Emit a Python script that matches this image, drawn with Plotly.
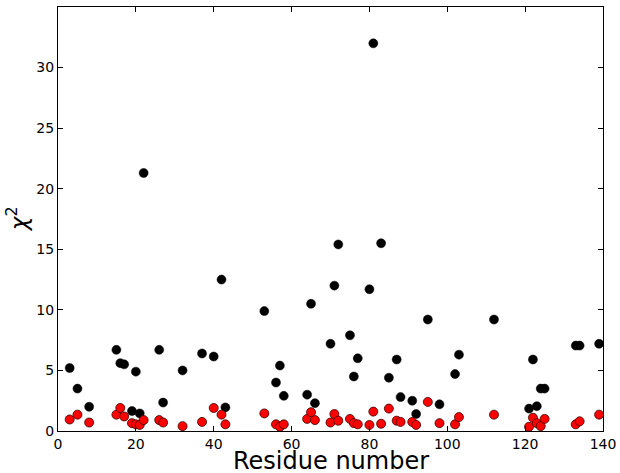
import plotly.graph_objects as go

residues = [3, 5, 8, 15, 16, 17, 19, 20, 21, 22, 26, 27, 32, 37, 40, 42, 43,
            53, 56, 57, 58, 64, 65, 66, 70, 71, 72, 75, 76, 77, 80, 81, 83, 85,
            87, 88, 91, 92, 95, 98,
            102, 103, 112, 121, 122, 123, 124, 125, 133, 134, 139]

chi2_black = [5.2, 3.5, 2.0, 6.7, 5.6, 5.5, 1.65, 4.9, 1.45, 21.3, 6.7, 2.35, 5.0, 6.4, 6.15, 12.5, 1.95,
              9.9, 4.0, 5.4, 2.9, 3.0, 10.5, 2.3, 7.2, 12.0, 15.4, 7.9, 4.5, 6.0, 11.7, 32.0, 15.5, 4.4,
              5.9, 2.8, 2.5, 1.4, 9.2, 2.2,
              4.7, 6.3, 9.2, 1.85, 5.9, 2.05, 3.5, 3.5, 7.05, 7.05, 7.2]

chi2_red = [0.95, 1.35, 0.7, 1.35, 1.9, 1.2, 0.65, 0.55, 0.5, 0.9, 0.9, 0.7, 0.4, 0.75, 1.9, 1.35, 0.55,
            1.45, 0.55, 0.35, 0.55, 1.0, 1.55, 0.9, 0.7, 1.4, 0.85, 1.0, 0.65, 0.55, 0.5, 1.6, 0.6, 1.85,
            0.85, 0.75, 0.75, 0.5, 2.4, 0.65,
            0.55, 1.15, 1.35, 0.35, 1.1, 0.65, 0.4, 1.0, 0.55, 0.8, 1.35]

fig = go.Figure()
fig.add_trace(go.Scatter(x=residues, y=chi2_black, mode="markers",
                         marker=dict(color="black", size=9, line=dict(color="black", width=0.5))))
fig.add_trace(go.Scatter(x=residues, y=chi2_red, mode="markers",
                         marker=dict(color="#ff0000", size=9, line=dict(color="#3a0000", width=0.8))))

axis_common = dict(showline=True, linecolor="black", linewidth=1.2, mirror="ticks",
                   ticks="inside", ticklen=5, tickcolor="black", showgrid=False, zeroline=False,
                   automargin=False,
                   tickfont=dict(family="DejaVu Sans", size=14, color="black"))

fig.update_layout(
    width=620, height=473,
    margin=dict(l=58, r=17, t=7, b=42),
    paper_bgcolor="white", plot_bgcolor="white",
    showlegend=False,
    font=dict(family="DejaVu Sans", color="black"),
    xaxis=dict(range=[0, 140], tickvals=[0, 20, 40, 60, 80, 100, 120, 140], **axis_common),
    yaxis=dict(range=[0, 35], tickvals=[0, 5, 10, 15, 20, 25, 30, 35], **axis_common),
)

# axis titles placed as annotations so the margins stay fixed
fig.add_annotation(text="Residue number", xref="paper", yref="paper", x=0.5, y=-0.0705,
                   xanchor="center", yanchor="middle", showarrow=False,
                   font=dict(family="DejaVu Sans", size=24, color="black"))
fig.add_annotation(text="<i>χ</i><sup>2</sup>", xref="paper", yref="paper", x=-0.075, y=0.5,
                   xanchor="center", yanchor="middle", showarrow=False, textangle=-90,
                   font=dict(family="DejaVu Sans", size=23, color="black"))

# browser body margin would push the figure out of the window
fig.write_html("out.html", config={"displayModeBar": False},
               post_script="document.body.style.margin='0';")
